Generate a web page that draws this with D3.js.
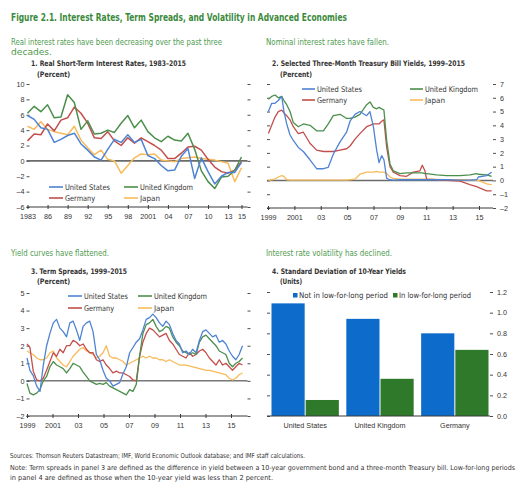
<!DOCTYPE html>
<html><head><meta charset="utf-8">
<script src="https://cdn.jsdelivr.net/npm/d3@7"></script>
<style>
body{margin:0;background:#fff;}
svg{display:block;font-family:"Liberation Sans Narrow","Arial Narrow","DejaVu Sans Condensed","DejaVu Sans",sans-serif;font-stretch:condensed;}
</style></head><body>
<svg id="c" width="532" height="493"></svg>
<script>
// ---------- DATA ----------
const seriesNames = ["United States", "United Kingdom", "Germany", "Japan"];

// Panel 1: annual real short-term rates
const p1Years = d3.range(1983, 2016);
const p1US = [5.9,5.4,4.3,4.1,2.4,2.8,3.3,3.6,2.2,1.4,0.5,0.1,1.5,2.8,2.4,3.4,2.4,2.8,0.7,0.3,-0.6,-1.3,-1.2,0.6,1.6,-2.3,0.4,-1.4,-3.0,-2.0,-1.5,-1.5,-0.2];
const p1UK = [6.2,7.1,6.4,7.3,5.6,5.7,8.6,7.6,4.1,5.2,3.5,3.6,4.0,3.7,4.9,5.9,4.3,5.3,3.8,3.0,2.5,3.2,2.7,2.6,3.6,1.5,-1.3,-2.7,-3.6,-2.1,-2.0,-1.2,0.5];
const p1DE = [2.6,3.5,3.4,4.8,3.9,5.3,5.6,7.0,6.2,4.9,3.0,2.9,3.8,2.6,2.0,3.0,2.3,3.0,2.5,2.0,1.4,0.3,0.3,1.0,1.8,1.9,1.4,0.2,-0.8,-1.4,-1.6,-1.2,-0.1];
const p1JP = [4.5,4.1,5.1,4.1,3.8,3.6,3.4,4.5,2.7,1.7,0.8,1.4,0.2,0.0,-1.6,-0.6,0.4,0.9,0.8,0.9,0.1,0.0,-0.1,0.3,0.4,0.5,0.3,0.2,0.1,-0.1,-0.3,-2.7,-0.9];
const p1XTicks = [1983,1986,1989,1992,1995,1998,2001,2004,2007,2010,2013,2015];
const p1YTicks = [-6,-4,-2,0,2,4,6,8,10];

// Panel 2: three-month treasury bill yields
const p2Dates = [1999.03,1999.28,1999.53,1999.78,2000.04,2000.21,2000.42,2000.67,2000.92,2001.30,2001.68,2002.18,2002.69,2003.20,2003.57,2003.95,2004.46,2004.96,2005.22,2005.60,2005.97,2006.48,2006.73,2006.99,2007.24,2007.42,2007.62,2007.79,2008.00,2008.25,2008.50,2009.01,2009.51,2010.02,2010.52,2010.70,2010.90,2011.03,2011.79,2012.55,2013.56,2014.31,2014.82,2014.95,2015.58,2015.96];
const p2US = [5.0,5.6,5.6,5.8,6.1,5.0,4.1,3.3,2.9,2.4,2.1,1.5,0.85,0.85,0.95,1.9,2.8,3.5,4.3,4.8,5.0,4.7,5.0,3.9,2.2,1.3,1.8,1.5,0.15,0.05,0.03,0.05,0.05,0.05,0.05,0.05,0.05,0.05,0.05,0.05,0.03,0.03,0.05,0.25,0.35,0.6];
const p2UK = [5.9,6.1,6.2,6.0,6.1,5.8,5.5,5.0,4.2,3.9,4.1,4.0,3.6,3.6,4.1,4.7,4.8,4.5,4.5,4.6,4.8,5.5,5.7,5.3,5.2,5.3,5.2,5.1,2.9,1.2,0.7,0.5,0.55,0.55,0.55,0.55,0.5,0.5,0.4,0.35,0.35,0.4,0.5,0.45,0.4,0.3];
const p2DE = [3.4,4.0,4.6,5.0,5.1,4.9,4.7,4.4,3.9,3.4,3.5,2.7,2.2,2.1,2.1,2.1,2.2,2.3,2.5,3.0,3.4,3.9,4.0,4.1,4.1,4.1,4.3,4.4,2.4,1.0,0.6,0.35,0.3,0.6,0.7,1.1,0.7,0.1,0.05,0.0,-0.05,-0.3,-0.45,-0.5,-0.75,-0.75];
const p2JP = [0.0,0.05,0.1,0.25,0.35,0.3,0.05,0.02,0.02,0.02,0.02,0.02,0.02,0.02,0.02,0.02,0.02,0.02,0.05,0.1,0.45,0.6,0.6,0.6,0.65,0.6,0.6,0.6,0.5,0.25,0.15,0.1,0.1,0.1,0.1,0.1,0.1,0.1,0.08,0.05,0.05,0.03,0.0,0.0,-0.25,-0.3];
const p2XTicks = [1999,2001,2003,2005,2007,2009,2011,2013,2015];
const p2YTicks = [-2,-1,0,1,2,3,4,5,6,7];

// Panel 3: term spreads
const p3Dates = [1999.0,1999.23,1999.49,1999.76,2000.02,2000.28,2000.54,2000.80,2001.06,2001.32,2001.58,2001.84,2002.10,2002.36,2002.62,2002.88,2003.14,2003.40,2003.66,2003.92,2004.18,2004.44,2004.70,2004.96,2005.22,2005.48,2005.74,2006.01,2006.27,2006.53,2006.79,2007.05,2007.31,2007.57,2007.83,2008.09,2008.35,2008.61,2008.87,2009.13,2009.39,2009.65,2009.91,2010.17,2010.43,2010.69,2010.95,2011.21,2011.47,2011.73,2011.99,2012.26,2012.52,2012.78,2013.04,2013.30,2013.56,2013.82,2014.08,2014.34,2014.60,2014.86,2015.12,2015.38,2015.64,2015.90];
const p3US = [1.3,0.6,0.3,-0.3,-0.6,0.9,2.0,2.7,3.3,3.5,3.0,2.8,2.5,3.3,3.4,2.9,2.3,3.1,3.3,3.4,2.8,1.5,1.2,0.6,0.15,0.0,-0.3,-0.2,-0.1,0.4,0.8,1.6,1.9,2.2,2.4,2.9,3.5,3.6,3.8,3.6,3.3,3.1,3.4,3.2,2.7,2.3,2.1,1.6,1.7,1.5,1.8,1.6,2.3,2.8,2.9,2.7,2.5,2.6,2.2,2.3,2.1,1.7,1.4,1.2,1.5,2.0];
const p3UK = [-0.15,-0.7,-0.8,-0.7,-0.5,0.0,0.25,0.8,1.1,0.9,0.8,0.7,0.45,0.7,1.0,0.9,0.8,0.5,0.25,0.0,-0.1,-0.2,-0.15,-0.2,-0.1,-0.3,-0.4,-0.5,-0.6,-0.7,-0.8,-0.5,-0.6,-0.2,1.4,2.7,3.2,3.3,3.5,3.1,2.8,2.9,3.1,3.0,2.5,2.2,2.0,1.7,1.6,1.5,1.6,1.5,2.2,2.5,2.6,2.4,2.2,2.0,1.7,1.6,1.5,1.0,0.8,1.0,1.1,1.3];
const p3DE = [2.1,1.9,0.55,0.05,0.0,0.15,0.6,1.1,1.6,1.4,1.8,1.6,2.0,2.0,2.3,2.2,2.0,2.1,1.8,1.6,1.6,1.2,1.1,1.2,0.9,0.7,0.45,0.55,0.45,0.45,0.35,0.25,0.05,0.0,1.4,2.2,2.7,3.0,2.9,2.7,2.5,2.6,2.7,2.3,2.1,1.8,1.5,1.4,1.3,1.6,1.4,1.5,1.7,1.8,1.6,1.3,1.1,0.9,1.2,0.9,1.0,0.8,0.6,0.8,1.0,0.9];
const p3JP = [1.7,1.6,1.5,1.3,1.2,1.2,1.3,1.6,1.7,1.3,1.1,0.9,0.8,1.1,1.4,1.6,1.8,1.9,1.7,1.6,1.5,1.3,1.4,1.6,2.0,1.4,1.3,1.3,1.2,1.1,0.9,1.0,1.1,1.2,1.3,1.4,1.3,1.4,1.3,1.3,1.2,1.2,1.1,1.2,1.1,1.0,0.9,0.9,0.9,0.85,0.8,0.75,0.7,0.65,0.6,0.6,0.55,0.5,0.45,0.4,0.35,0.15,0.05,0.15,0.35,0.45];
const p3XTicks = [1999,2001,2003,2005,2007,2009,2011,2013,2015];
const p3YTicks = [-2,-1,0,1,2,3,4,5];

// Panel 4: standard deviation of 10-year yields
const p4Countries = ["United States", "United Kingdom", "Germany"];
const p4Periods = ["Not in low-for-long period", "In low-for-long period"];
const p4NotLow = [1.09, 0.94, 0.80];
const p4Low = [0.155, 0.36, 0.64];
const p4YTicks = [0, 0.2, 0.4, 0.6, 0.8, 1.0, 1.2];

// ---------- STYLE ----------
const colors = {"United States":"#4f83d3","United Kingdom":"#4c8f4c","Germany":"#c24f4c","Japan":"#f8bb5a"};
const barColors = ["#0d6bcc", "#2f7a2a"];
const axisCol = "#3a3a3a";
const labCol = "#333";
const tickSize = 7.2;

const svg = d3.select("#c");
svg.append("rect").attr("width",532).attr("height",493).attr("fill","#fff");

function txt(x, y, s, o) {
  const t = svg.append("text").attr("x", x).attr("y", y).text(s)
    .attr("font-size", o.size).attr("fill", o.fill || labCol)
    .attr("font-weight", o.weight || "normal");
  if (o.len) t.attr("textLength", o.len).attr("lengthAdjust", "spacingAndGlyphs");
  if (o.anchor) t.attr("text-anchor", o.anchor);
  return t;
}

// ---------- HEADINGS ----------
txt(11, 21, "Figure 2.1. Interest Rates, Term Spreads, and Volatility in Advanced Economies", {size:10.5, weight:"bold", fill:"#3b8a3b", len:336});
txt(11, 44.5, "Real interest rates have been decreasing over the past three", {size:8.6, fill:"#4f9a4f", len:211});
txt(11, 54.5, "decades.", {size:8.6, fill:"#4f9a4f", len:41});
txt(266, 44.5, "Nominal interest rates have fallen.", {size:8.6, fill:"#4f9a4f", len:123});
txt(11, 256, "Yield curves have flattened.", {size:8.6, fill:"#4f9a4f", len:98});
txt(266, 256, "Interest rate volatility has declined.", {size:8.6, fill:"#4f9a4f", len:126});

txt(31, 66, "1. Real Short-Term Interest Rates, 1983\u20132015", {size:7.6, weight:"bold", len:155});
txt(37, 76.5, "(Percent)", {size:7.6, weight:"bold", len:33});
txt(272, 66, "2. Selected Three-Month Treasury Bill Yields, 1999\u20132015", {size:7.6, weight:"bold", len:193});
txt(280, 76.5, "(Percent)", {size:7.6, weight:"bold", len:32});
txt(31, 273.5, "3. Term Spreads, 1999\u20132015", {size:7.6, weight:"bold", len:96});
txt(37, 284, "(Percent)", {size:7.6, weight:"bold", len:33});
txt(272, 273.5, "4. Standard Deviation of 10-Year Yields", {size:7.6, weight:"bold", len:134});
txt(280, 284, "(Units)", {size:7.6, weight:"bold", len:22});

txt(10, 458, "Sources: Thomson Reuters Datastream; IMF, World Economic Outlook database; and IMF staff calculations.", {size:6.8, len:295});
txt(10, 469.5, "Note: Term spreads in panel 3 are defined as the difference in yield between a 10-year government bond and a three-month Treasury bill. Low-for-long periods", {size:6.8, len:505});
txt(10, 480, "in panel 4 are defined as those when the 10-year yield was less than 2 percent.", {size:6.8, len:263});

// ---------- HELPERS ----------
function yAxes(g, y, ticks, x0, x1, opts) {
  const left = g.append("g").attr("transform", `translate(${x0},0)`)
    .call(d3.axisLeft(y).tickValues(ticks).tickSize(-3).tickPadding(2)
      .tickFormat(opts.leftLabels ? opts.fmt : ""));
  const right = g.append("g").attr("transform", `translate(${x1},0)`)
    .call(d3.axisRight(y).tickValues(ticks).tickSize(3).tickPadding(4)
      .tickFormat(opts.rightLabels ? opts.fmt : ""));
  [left, right].forEach(a => {
    a.select(".domain").remove();
    a.selectAll("line").attr("stroke", axisCol).attr("stroke-width", 0.9);
    a.selectAll("text").attr("font-size", tickSize).attr("fill", labCol).attr("font-family", null);
  });
}
function xAxis(g, x, ticks, fmt, yb, x0, x1) {
  g.append("line").attr("x1", x0).attr("x2", x1).attr("y1", yb).attr("y2", yb)
    .attr("stroke", axisCol).attr("stroke-width", 1.1);
  const a = g.append("g").attr("transform", `translate(0,${yb})`)
    .call(d3.axisBottom(x).tickValues(ticks).tickSize(2).tickPadding(5).tickFormat(fmt));
  a.select(".domain").remove();
  a.selectAll("line").attr("stroke", axisCol).attr("y1", -2);
  a.selectAll("text").attr("font-size", tickSize).attr("fill", labCol).attr("font-family", null);
}
function yearFmt(d, i) { return (i === 0 || d === 2001) ? String(d) : String(d).slice(2); }
const numFmt = d => d < 0 ? "\u2013" + Math.abs(d) : String(d);

function legendLines(g, x1, x2, y1, y2, names, lineLen, size, lens) {
  const pos = [[x1, y1], [x2, y1], [x1, y2], [x2, y2]];
  names.forEach((n, i) => {
    const [lx, ly] = pos[i];
    g.append("line").attr("x1", lx).attr("x2", lx + lineLen).attr("y1", ly).attr("y2", ly)
      .attr("stroke", colors[n]).attr("stroke-width", 1.6);
    g.append("text").attr("x", lx + lineLen + 2).attr("y", ly + 2.6).text(n)
      .attr("font-size", size).attr("fill", labCol)
      .attr("textLength", lens[i]).attr("lengthAdjust", "spacingAndGlyphs");
  });
}
function drawLines(g, x, y, dates, list, width) {
  const line = d3.line().x(d => x(d[0])).y(d => y(d[1]));
  list.forEach(([name, vals]) => {
    g.append("path").datum(d3.zip(dates, vals)).attr("d", line)
      .attr("fill", "none").attr("stroke", colors[name]).attr("stroke-width", width)
      .attr("stroke-linejoin", "round");
  });
}

// ---------- PANEL 1 ----------
{
  const g = svg.append("g");
  const x = d3.scaleLinear().domain([1982.85, 2015.9]).range([26.5, 247.5]);
  const y = d3.scaleLinear().domain([-6, 10]).range([207, 84]);
  yAxes(g, y, p1YTicks, 26.5, 247.5, {leftLabels:true, rightLabels:false, fmt:numFmt});
  g.append("line").attr("x1", 26.5).attr("x2", 247.5).attr("y1", y(0)).attr("y2", y(0))
    .attr("stroke", "#6b6b6b").attr("stroke-width", 1.6);
  drawLines(g, x, y, p1Years, [["Japan", p1JP], ["Germany", p1DE], ["United Kingdom", p1UK], ["United States", p1US]], 1.5);
  xAxis(g, x, p1XTicks, yearFmt, 207, 26.5, 247.5);
  legendLines(g, 49, 124, 187, 198, ["United States", "United Kingdom", "Germany", "Japan"], 14, 7.8, [45, 53, 30, 20]);
}

// ---------- PANEL 2 ----------
{
  const g = svg.append("g");
  const x = d3.scaleLinear().domain([1999, 2015]).range([268, 479]);
  const y = d3.scaleLinear().domain([-2, 7]).range([208, 84]);
  yAxes(g, y, p2YTicks, 267, 493, {leftLabels:false, rightLabels:true, fmt:numFmt});
  g.append("line").attr("x1", 267).attr("x2", 493).attr("y1", y(0)).attr("y2", y(0))
    .attr("stroke", "#6b6b6b").attr("stroke-width", 1.6);
  drawLines(g, x, y, p2Dates, [["Japan", p2JP], ["Germany", p2DE], ["United Kingdom", p2UK], ["United States", p2US]], 1.3);
  xAxis(g, x, p2XTicks, yearFmt, 208, 267, 493);
  legendLines(g, 302, 410, 89, 100, ["United States", "United Kingdom", "Germany", "Japan"], 13, 7.8, [45, 53, 30, 20]);
}

// ---------- PANEL 3 ----------
{
  const g = svg.append("g");
  const x = d3.scaleLinear().domain([1999, 2015]).range([27, 231]);
  const y = d3.scaleLinear().domain([-2, 5]).range([416, 293]);
  yAxes(g, y, p3YTicks, 26.5, 247.5, {leftLabels:true, rightLabels:false, fmt:numFmt});
  g.append("line").attr("x1", 26.5).attr("x2", 247.5).attr("y1", y(0)).attr("y2", y(0))
    .attr("stroke", "#333").attr("stroke-width", 1);
  drawLines(g, x, y, p3Dates, [["Japan", p3JP], ["Germany", p3DE], ["United Kingdom", p3UK], ["United States", p3US]], 1.3);
  xAxis(g, x, p3XTicks, yearFmt, 416, 26.5, 247.5);
  legendLines(g, 68, 138, 296, 308, ["United States", "United Kingdom", "Germany", "Japan"], 14, 7.8, [44, 53, 30, 20]);
}

// ---------- PANEL 4 ----------
{
  const g = svg.append("g");
  const y = d3.scaleLinear().domain([0, 1.2]).range([416, 292]);
  const x0 = d3.scaleBand().domain(p4Countries).range([270, 490]).paddingInner(0.1).paddingOuter(0.02);
  const x1 = d3.scaleBand().domain(p4Periods).range([0, x0.bandwidth()]);
  yAxes(g, y, p4YTicks, 267, 490, {leftLabels:false, rightLabels:true, fmt:d3.format(".1f")});
  const rows = p4Countries.map((c, i) => ({c, v:[p4NotLow[i], p4Low[i]]}));
  const grp = g.selectAll("g.grp").data(rows).join("g").attr("transform", d => `translate(${x0(d.c)},0)`);
  grp.selectAll("rect").data(d => d.v.map((v, j) => ({p:p4Periods[j], v, j}))).join("rect")
    .attr("x", d => x1(d.p) + (d.j ? 0.5 : 0)).attr("width", x1.bandwidth() - 0.5)
    .attr("y", d => y(d.v)).attr("height", d => y(0) - y(d.v))
    .attr("fill", d => barColors[d.j]);
  g.append("line").attr("x1", 267).attr("x2", 490).attr("y1", 416).attr("y2", 416)
    .attr("stroke", axisCol).attr("stroke-width", 1.1);
  const xa = g.append("g").attr("transform", "translate(0,416)")
    .call(d3.axisBottom(x0).tickSize(0).tickPadding(7));
  xa.select(".domain").remove();
  xa.selectAll("text").attr("font-size", tickSize).attr("fill", labCol).attr("font-family", null);
  // legend
  const lx = [293, 393], lens = [89, 72];
  p4Periods.forEach((p, j) => {
    g.append("rect").attr("x", lx[j]).attr("y", 293).attr("width", 4.5).attr("height", 4.5).attr("fill", barColors[j]);
    g.append("text").attr("x", lx[j] + 6).attr("y", 298).text(p).attr("font-size", 7.8).attr("fill", labCol)
      .attr("textLength", lens[j]).attr("lengthAdjust", "spacingAndGlyphs");
  });
}
</script></body></html>
